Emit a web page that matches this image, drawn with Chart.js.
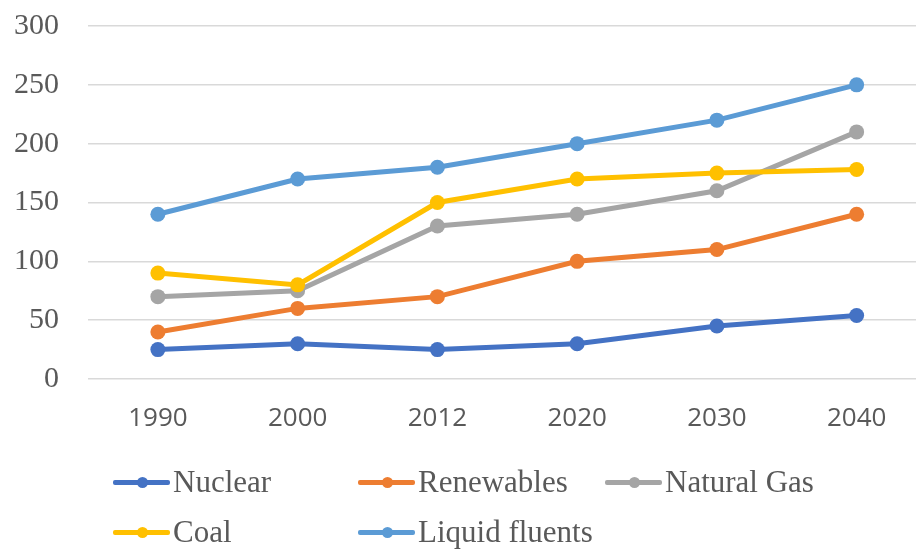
<!DOCTYPE html>
<html>
<head>
<meta charset="utf-8">
<script src="https://cdn.jsdelivr.net/npm/chart.js@4/dist/chart.umd.min.js"></script>
<style>
  html, body { margin: 0; padding: 0; background: #fff; overflow: hidden; width: 916px; height: 550px; }
  #wrap { position: absolute; left: -1px; top: -21px; width: 935px; height: 481px; }
  #legend { position: absolute; left: 0; top: 0; width: 916px; height: 550px; pointer-events: none; }
  .item { position: absolute; display: flex; align-items: center; height: 36px;
          font-family: "Liberation Serif", "Times New Roman", serif; font-size: 31px; color: #595959; }
  .mark { position: relative; width: 57px; height: 5px; margin-right: 3px; border-radius: 2px; }
  .mark::after { content: ""; position: absolute; left: 24px; top: -3px; width: 11px; height: 11px;
                 border-radius: 50%; background: inherit; }
</style>
</head>
<body>
<div id="wrap"><canvas id="c"></canvas></div>
<div id="legend"></div>
<script>
const years = ["1990", "2000", "2012", "2020", "2030", "2040"];
const seriesNames = ["Nuclear", "Renewables", "Natural Gas", "Coal", "Liquid fluents"];
const seriesColors = ["#4472C4", "#ED7D31", "#A5A5A5", "#FFC000", "#5B9BD5"];
const nuclear     = [25, 30, 25, 30, 45, 54];
const renewables  = [40, 60, 70, 100, 110, 140];
const naturalGas  = [70, 75, 130, 140, 160, 210];
const coal        = [90, 80, 150, 170, 175, 178];
const liquid      = [140, 170, 180, 200, 220, 250];
const yTicks      = [0, 50, 100, 150, 200, 250, 300];

const seriesValues = [nuclear, renewables, naturalGas, coal, liquid];

const datasets = seriesNames.map((name, i) => ({
  label: name,
  data: seriesValues[i],
  borderColor: seriesColors[i],
  backgroundColor: seriesColors[i],
  borderWidth: 5,
  pointRadius: 7.5,
  pointHoverRadius: 7.5,
  pointBorderWidth: 0,
  tension: 0,
  order: seriesNames.length - i
}));

const gray = "#595959";

new Chart(document.getElementById("c"), {
  type: "line",
  data: { labels: years, datasets },
  options: {
    responsive: true,
    maintainAspectRatio: false,
    animation: false,
    layout: { padding: { left: 0, top: 4, right: 1, bottom: 0 } },
    plugins: { legend: { display: false }, tooltip: { enabled: false } },
    scales: {
      x: {
        offset: true,
        grid: { display: false, drawTicks: false },
        border: { display: false },
        ticks: {
          color: gray,
          padding: 24,
          font: { family: "'Open Sans', sans-serif", size: 26 }
        },
        afterFit: s => { s.height = 81; }
      },
      y: {
        min: 0,
        max: 300,
        afterBuildTicks: s => { s.ticks = yTicks.map(v => ({ value: v })); },
        grid: { color: "#D9D9D9", lineWidth: 1.6, drawTicks: false },
        border: { display: false },
        ticks: {
          color: gray,
          padding: 29,
          font: { family: "'Liberation Serif', 'Times New Roman', serif", size: 30 }
        },
        afterFit: s => { s.width = 89; }
      }
    }
  }
});

// Legend laid out in a grid of two rows below the plot
const legendCols = [113, 358, 605];
const legendRows = [464, 514];
const legend = document.getElementById("legend");
seriesNames.forEach((name, i) => {
  const el = document.createElement("div");
  el.className = "item";
  el.style.left = legendCols[i % 3] + "px";
  el.style.top = legendRows[Math.floor(i / 3)] + "px";
  const mark = document.createElement("span");
  mark.className = "mark";
  mark.style.background = seriesColors[i];
  const txt = document.createElement("span");
  txt.textContent = name;
  el.appendChild(mark);
  el.appendChild(txt);
  legend.appendChild(el);
});
</script>
</body>
</html>
